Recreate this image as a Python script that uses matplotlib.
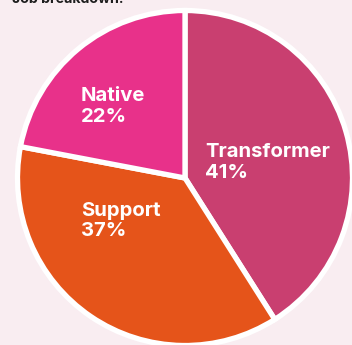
import matplotlib.pyplot as plt

categories = ["Transformer", "Support", "Native"]
shares = [41, 37, 22]
colors = ["#C93F70", "#E5541A", "#E8318A"]
title = "Job breakdown:"

# label anchor points (px from top-left), left aligned
label_pos = [(205, 157), (81, 216), (81, 101)]

W, H = 352, 345
fig = plt.figure(figsize=(W / 100, H / 100), dpi=100)
fig.patch.set_facecolor("#F9EDF1")
ax = fig.add_axes([0, 0, 1, 1])
ax.set_facecolor("#F9EDF1")

cx, cy, r = 185, H - 178, 167.5
ax.pie(shares, colors=colors, startangle=90, counterclock=False,
       center=(cx, cy), radius=r,
       wedgeprops=dict(edgecolor="white", linewidth=3.8))
ax.set_xlim(0, W)
ax.set_ylim(0, H)
ax.set_aspect("equal")
ax.axis("off")

font = ["Inter", "DejaVu Sans"]
for name, val, (x, y) in zip(categories, shares, label_pos):
    ax.text(x, H - y, name, color="white", fontsize=14.6, fontweight="bold",
            family=font, ha="left", va="baseline")
    ax.text(x, H - y - 20.5, f"{val}%", color="white", fontsize=14.6,
            fontweight="bold", family=font, ha="left", va="baseline")

ax.text(12, H - 3, title, color="#1E1E1E", fontsize=10.2, fontweight="bold",
        family=font, ha="left", va="baseline")

fig.savefig("out.png", dpi=100, facecolor=fig.get_facecolor())
